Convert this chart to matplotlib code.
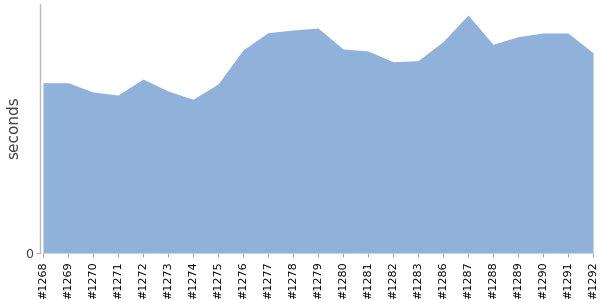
import matplotlib
matplotlib.use("Agg")
import matplotlib.pyplot as plt
import numpy as np

# build labels and durations (arbitrary seconds scale)
builds = ['#1268', '#1269', '#1270', '#1271', '#1272', '#1273', '#1274', '#1275',
          '#1276', '#1277', '#1278', '#1279', '#1280', '#1281', '#1282', '#1283',
          '#1286', '#1287', '#1288', '#1289', '#1290', '#1291', '#1292']
seconds = [170.3, 170.3, 161, 158, 174, 162, 153.7, 169,
           203, 220.3, 223, 225, 204, 202, 191.3, 192.3,
           211.3, 238, 208.7, 216.3, 220, 220, 200.3]

x = np.arange(len(builds))

fig = plt.figure(figsize=(6, 3), dpi=100)
ax = fig.add_axes([40 / 600, 47 / 300, 556 / 600, 249 / 300])

ax.fill_between(x, 0, seconds, color='#8fb1da', linewidth=0)

ax.set_xlim(-0.12, 22.12)
ax.set_ylim(0, 249)

ax.set_xticks(x)
ax.set_xticklabels(builds, rotation=90, fontsize=8, color='black')
ax.set_yticks([0])
ax.set_yticklabels(['0'], fontsize=9, color='#444444')
ax.tick_params(axis='x', length=3, color='#aaaaaa', pad=3)
ax.tick_params(axis='y', length=3, color='#aaaaaa', pad=2)

for s in ['top', 'right', 'bottom']:
    ax.spines[s].set_visible(False)
ax.spines['left'].set_color('#bbbbbb')
ax.spines['left'].set_linewidth(1)

# y label placed by hand so it sits inside the figure like the reference
fig.text(14 / 600, 1 - 128 / 300, 'seconds', rotation=90, fontsize=11,
         color='#444444', ha='center', va='center')

fig.savefig('out.png', dpi=100)
